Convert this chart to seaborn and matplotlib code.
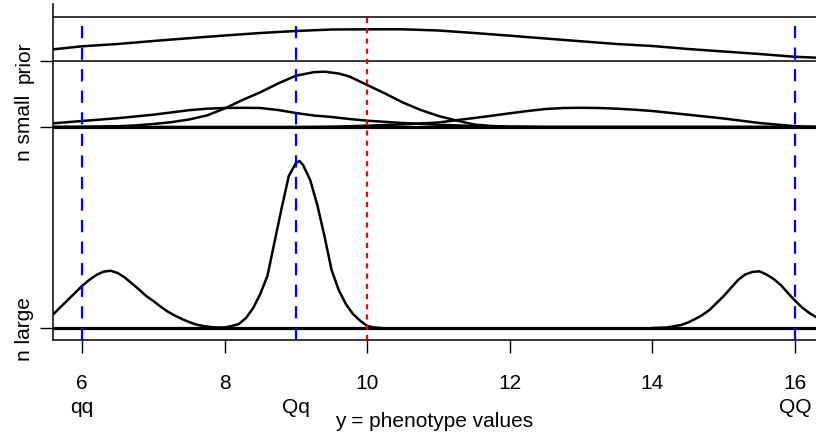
import numpy as np
import pandas as pd
import matplotlib
matplotlib.use("Agg")
import matplotlib.pyplot as plt
import seaborn as sns

# ---------------- data ----------------
# prior curve (top panel), heights above its baseline
prior_x = [5.6, 6.0, 6.5, 7.0, 7.5, 8.0, 8.5, 9.0, 9.5, 10.0, 10.5, 11.0, 11.5,
           12.0, 12.5, 13.0, 13.5, 14.0, 14.5, 15.0, 15.5, 16.0, 16.3]
prior_y = [11.7, 14.7, 17.0, 20.0, 22.8, 25.5, 28.0, 30.0, 31.5, 31.7, 31.7, 30.5,
           28.0, 25.3, 22.5, 19.7, 17.0, 15.0, 12.0, 9.5, 7.0, 4.2, 3.3]

# n small: three posterior curves
small_Qq_x = [5.6, 6.0, 6.5, 6.75, 7.0, 7.25, 7.5, 7.75, 8.0, 8.25, 8.5, 8.75, 9.0,
              9.25, 9.4, 9.6, 9.75, 10.0, 10.25, 10.5, 10.75, 11.0, 11.25, 11.5,
              11.75, 12.0, 12.5, 16.3]
small_Qq_y = [0.0, 0.2, 0.8, 1.6, 3.0, 4.8, 7.5, 11.5, 18.5, 27.0, 34.7, 43.5, 51.3,
              54.8, 55.3, 53.5, 50.5, 42.0, 33.5, 24.5, 17.0, 11.0, 6.5, 2.5,
              1.0, 0.3, 0.0, 0.0]
small_qq_x = [5.6, 6.0, 6.5, 7.0, 7.5, 7.75, 8.0, 8.25, 8.5, 8.75, 9.0, 9.25, 9.5,
              9.75, 10.0, 10.5, 11.0, 11.5, 12.0, 12.5, 16.3]
small_qq_y = [3.7, 6.0, 8.8, 12.3, 16.8, 18.3, 19.0, 19.2, 19.0, 17.0, 14.0, 11.5,
              10.0, 8.0, 6.3, 4.0, 2.2, 1.0, 0.3, 0.0, 0.0]
small_QQ_x = [5.6, 9.0, 9.5, 10.0, 10.5, 11.0, 11.25, 11.5, 11.75, 12.0, 12.25, 12.5,
              12.75, 13.0, 13.25, 13.5, 13.75, 14.0, 14.5, 15.0, 15.5, 16.0, 16.3]
small_QQ_y = [0.0, 0.0, 0.3, 1.3, 2.6, 4.5, 6.8, 9.0, 11.3, 13.7, 16.0, 18.0,
              19.0, 19.2, 19.0, 18.3, 17.3, 16.0, 12.3, 8.5, 4.0, 0.8, 0.0]

# n large: three posterior curves
large_qq_x = [5.6, 5.7, 5.8, 5.9, 6.0, 6.1, 6.2, 6.3, 6.4, 6.5, 6.6, 6.7, 6.8, 6.9,
              7.0, 7.1, 7.2, 7.3, 7.4, 7.5, 7.6, 7.7, 7.8, 8.0]
large_qq_y = [14.0, 21.0, 28.0, 35.0, 42.0, 48.0, 53.0, 56.3, 57.3, 55.0, 50.5, 44.5,
              38.5, 32.0, 27.0, 21.5, 16.5, 12.5, 9.0, 6.0, 3.5, 2.0, 1.0, 0.0]
large_Qq_x = [7.9, 8.0, 8.1, 8.2, 8.3, 8.4, 8.5, 8.6, 8.7, 8.8, 8.9, 9.0, 9.05, 9.1,
              9.2, 9.3, 9.4, 9.5, 9.6, 9.7, 9.8, 9.9, 10.0, 10.1, 10.2]
large_Qq_y = [0.0, 0.5, 2.0, 4.0, 10.0, 20.0, 34.0, 52.0, 86.0, 120.0, 152.0, 165.0,
              167.0, 163.0, 148.0, 123.0, 92.0, 58.0, 38.0, 24.0, 14.0, 7.3, 2.0, 0.5, 0.0]
large_QQ_x = [14.0, 14.2, 14.4, 14.5, 14.6, 14.7, 14.8, 14.9, 15.0, 15.1, 15.2, 15.3,
              15.4, 15.5, 15.6, 15.7, 15.8, 15.9, 16.0, 16.1, 16.2, 16.3]
large_QQ_y = [0.0, 0.5, 3.0, 5.5, 9.0, 13.0, 18.0, 25.0, 32.0, 40.0, 48.0, 53.5,
              56.0, 56.7, 53.5, 49.0, 43.0, 35.0, 27.3, 20.5, 15.0, 10.7]

genotype_pos = [6, 9, 16]
genotype_lab = ["qq", "Qq", "QQ"]
mean_value = 10
xticks = [6, 8, 10, 12, 14, 16]
panel_labels = ["n large", "n small", "prior"]

# ---------------- layout ----------------
base_large, base_small, base_prior, top_line = 12, 213, 279, 323

sns.set_style("ticks")
plt.rcParams['font.family'] = ['Liberation Sans', 'DejaVu Sans']
plt.rcParams['text.color'] = 'black'
plt.rcParams['axes.labelcolor'] = 'black'

fig = plt.figure(figsize=(8.16, 4.35), dpi=100)
ax = fig.add_axes([53 / 816, 94 / 435, 763 / 816, 336 / 435])

lw_curve = 1.8
def curve(xs, ys, base):
    df = pd.DataFrame({"x": xs, "y": np.asarray(ys) + base})
    sns.lineplot(data=df, x="x", y="y", color="black", lw=lw_curve,
                 estimator=None, sort=False, ax=ax, zorder=3)

curve(prior_x, prior_y, base_prior)
curve(small_Qq_x, small_Qq_y, base_small)
curve(small_qq_x, small_qq_y, base_small)
curve(small_QQ_x, small_QQ_y, base_small)
curve(large_qq_x, large_qq_y, base_large)
curve(large_Qq_x, large_Qq_y, base_large)
curve(large_QQ_x, large_QQ_y, base_large)

xlo, xhi = 5.593, 16.294
ax.hlines([top_line, base_prior], xlo, xhi, color="black", lw=1.1, zorder=2)
ax.hlines([base_small, base_large], xlo, xhi, color="black", lw=2.3, zorder=2)

ax.vlines(genotype_pos, 0, top_line, color="#0000FF", lw=1.6,
          linestyles=[(0, (5.5, 4.2))], zorder=4)
ax.vlines([mean_value], 0, top_line, color="#FF0000", lw=1.6,
          linestyles=[(0, (2.3, 2.3))], zorder=4)

ax.set_xlim(xlo, xhi)
ax.set_ylim(0, 336)
sns.despine(ax=ax, top=True, right=True)
for s in ("left", "bottom"):
    ax.spines[s].set_linewidth(1.1)
    ax.spines[s].set_color("black")

ax.set_xticks(xticks)
ax.set_xticklabels([str(t) for t in xticks], fontsize=15)
ax.set_yticks([base_large, base_small, base_prior])
ax.set_yticklabels(panel_labels, fontsize=15, rotation=90, va="center")
ax.tick_params(axis="x", length=9, width=1.0, pad=14.5, colors="black")
ax.tick_params(axis="y", length=9.5, width=1.0, pad=4.5, colors="black")

for p, lab in zip(genotype_pos, genotype_lab):
    ax.annotate(lab, xy=(p, 0), xycoords=("data", "axes fraction"),
                xytext=(0, -51.5), textcoords="offset points",
                ha="center", va="baseline", fontsize=15, color="black")

ax.set_xlabel("y = phenotype values", fontsize=15, labelpad=14, color="black")
ax.set_ylabel("")

fig.savefig("out.png", dpi=100)
